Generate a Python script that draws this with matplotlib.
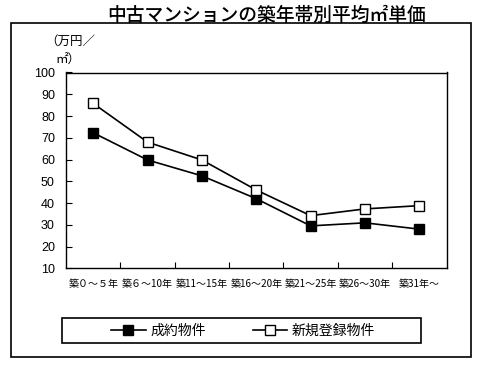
import matplotlib
matplotlib.use("Agg")
import matplotlib.pyplot as plt
from matplotlib.patches import Rectangle

plt.rcParams['font.family'] = ['Noto Sans CJK JP', 'DejaVu Sans']

categories = ["築０～５年", "築６～10年", "築11～15年", "築16～20年", "築21～25年", "築26～30年", "築31年～"]
seiyaku = [72.3, 59.8, 52.5, 42.0, 29.5, 30.9, 28.0]
shinki = [85.8, 68.0, 59.8, 46.0, 34.2, 37.3, 38.8]
yticks = [10, 20, 30, 40, 50, 60, 70, 80, 90, 100]
series_names = ["成約物件", "新規登録物件"]
title = "中古マンションの築年帯別平均㎡単価"

W, H = 483, 366
fig = plt.figure(figsize=(W / 100, H / 100), dpi=100)

def fx(px):
    return px / W

def fy(py):
    return 1 - py / H

# outer frame
fig.patches.append(Rectangle((fx(11), fy(357)), fx(471) - fx(11), fy(23) - fy(357),
                             transform=fig.transFigure, fill=False, lw=1.2, ec='black'))
# legend frame
fig.patches.append(Rectangle((fx(62), fy(343)), fx(421) - fx(62), fy(318) - fy(343),
                             transform=fig.transFigure, fill=False, lw=1.2, ec='black'))

ax = fig.add_axes([fx(66), fy(268.3), fx(446.5) - fx(66), fy(72.5) - fy(268.3)])
x = list(range(len(categories)))
ax.plot(x, seiyaku, color='black', lw=1.2, marker='s', markersize=6.5,
        markerfacecolor='black', markeredgecolor='black', label=series_names[0])
ax.plot(x, shinki, color='black', lw=1.2, marker='s', markersize=6.5,
        markerfacecolor='white', markeredgecolor='black', markeredgewidth=1.0,
        label=series_names[1])

ax.set_xlim(-0.5, len(categories) - 0.5)
ax.set_ylim(10, 100)
ax.set_yticks(yticks)
ax.set_yticklabels([str(v) for v in yticks], family=['Liberation Sans', 'DejaVu Sans'], fontsize=9)
ax.tick_params(axis='y', direction='in', length=4, width=0.8, pad=8)
ax.set_xticks(x)
ax.set_xticklabels(categories, fontsize=7.2)
ax.set_xticks([i + 0.5 for i in range(len(categories) - 1)], minor=True)
ax.tick_params(axis='x', which='major', length=0, pad=8)
ax.tick_params(axis='x', which='minor', direction='in', length=4, width=0.8)
for s in ax.spines.values():
    s.set_linewidth(1.0)

fig.text(fx(45), fy(41), "（万円／", fontsize=9, ha='left', va='center')
fig.text(fx(55), fy(60), "㎡）", fontsize=9, ha='left', va='center')

fig.text(fx(267), fy(15), title, fontsize=13.5, fontweight='medium', ha='center', va='center')

fig.legend(loc='center', bbox_to_anchor=(fx(243), fy(330.5)), ncol=2, frameon=False,
           fontsize=10, handlelength=2.5, handletextpad=0.3, columnspacing=3.4)

fig.savefig("out.png", dpi=100)
